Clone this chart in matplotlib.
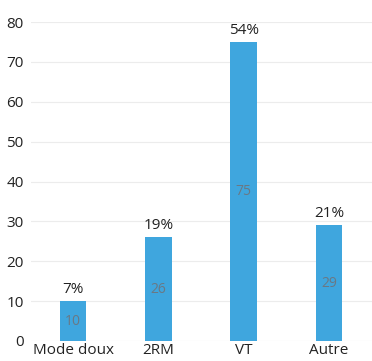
import matplotlib.pyplot as plt

plt.rcParams['font.family'] = ['Open Sans', 'DejaVu Sans']

categories = ['Mode doux', '2RM', 'VT', 'Autre']
values = [10, 26, 75, 29]
shares = ['7%', '19%', '54%', '21%']

fig = plt.figure(figsize=(3.72, 3.61), dpi=100)
ax = fig.add_axes([30.5 / 372, 20 / 361, 341 / 372, 319 / 361])

x = range(len(categories))
bars = ax.bar(x, values, width=0.31, color='#3fa6de', zorder=2)

# value inside the bar, share above it
for b, v, s in zip(bars, values, shares):
    cx = b.get_x() + b.get_width() / 2
    ax.text(cx, v / 2, str(v), ha='center', va='center', fontsize=10,
            color='#6a7884', zorder=3)
    ax.annotate(s, (cx, v), xytext=(0, 3), textcoords='offset points',
                ha='center', va='bottom', fontsize=11, color='#222222')

ax.set_xlim(-0.5, 3.5)
ax.set_ylim(0, 80)
ax.set_yticks(range(0, 81, 10))
ax.set_xticks(list(x))
ax.set_xticklabels(categories)
ax.tick_params(length=0, labelsize=11, labelcolor='#222222')
ax.tick_params(axis='y', pad=5)
ax.tick_params(axis='x', pad=1.5)
ax.grid(axis='y', color='#ececec', linewidth=0.8, zorder=0)
for sp in ax.spines.values():
    sp.set_visible(False)

fig.savefig('out.png', dpi=100)
